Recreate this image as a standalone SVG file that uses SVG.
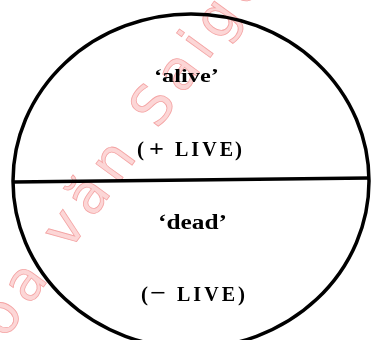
<svg xmlns="http://www.w3.org/2000/svg" width="372" height="340" viewBox="0 0 372 340">
<style>
.lbl{font-family:"Liberation Serif","DejaVu Serif",serif;font-weight:bold;fill:#000}
.wm{font-family:"DejaVu Sans","Liberation Sans",sans-serif;font-size:55px;letter-spacing:8px;fill:#fcd6d6;stroke:#f4a4a4;stroke-width:0.8;mix-blend-mode:multiply}
</style>
<rect width="372" height="340" fill="#fff"/>
<g id="shape">
<ellipse cx="191" cy="181" rx="178" ry="167" fill="none" stroke="#000" stroke-width="3.5"/>
</g>
<g id="connectors">
<line x1="13" y1="182" x2="369" y2="178" stroke="#000" stroke-width="3.5"/>
</g>
<g id="alive">
<text class="lbl" x="154" y="82" font-size="19" textLength="65" lengthAdjust="spacingAndGlyphs">‘alive’</text>
<text class="lbl" x="137" y="156" font-size="21">(</text>
<text class="lbl" x="149" y="156" font-size="24" font-weight="normal" textLength="15" lengthAdjust="spacingAndGlyphs">+</text>
<text class="lbl" x="175" y="156" font-size="20" textLength="58" lengthAdjust="spacing">LIVE</text>
<text class="lbl" x="235" y="156" font-size="21">)</text>
</g>
<g id="dead">
<text class="lbl" x="158" y="229" font-size="20" textLength="69" lengthAdjust="spacingAndGlyphs">‘dead’</text>
<text class="lbl" x="141" y="301" font-size="21">(</text>
<text class="lbl" x="150" y="300" font-size="22" textLength="16" lengthAdjust="spacingAndGlyphs">−</text>
<text class="lbl" x="177" y="301" font-size="20" textLength="58" lengthAdjust="spacing">LIVE</text>
<text class="lbl" x="238" y="301" font-size="21">)</text>
</g>
<text class="wm" transform="translate(-24,380) rotate(-54)">Hoa văn Saigon</text>
</svg>
